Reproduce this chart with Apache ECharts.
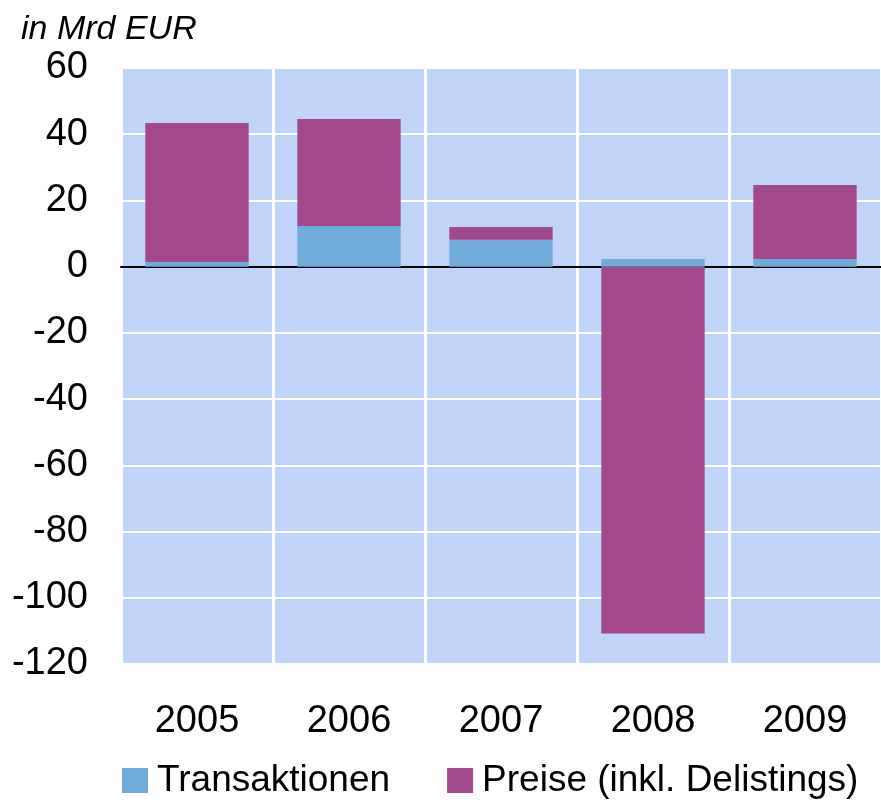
<head>
    <meta charset="utf-8"/>
    <style>
        html, body { margin: 0; padding: 0; background: #fff; }
        #container { width: 881px; height: 802px; }
    </style>
</head>
<div id="container"></div>
<script src="https://cdn.jsdelivr.net/npm/echarts@6/dist/echarts.min.js"></script>
<script type="text/javascript">
    var years = ['2005', '2006', '2007', '2008', '2009'];
    var transaktionen = [1.4, 12.3, 8.1, 2.3, 2.3];
    var preise = [42.0, 32.3, 3.9, -110.8, 22.4];
    var seriesNames = ['Transaktionen', 'Preise (inkl. Delistings)'];

    var font = 'Liberation Sans, Arial, sans-serif';
    var myChart = echarts.init(document.getElementById('container'));
    var option = {
        animation: false,
        title: {
            text: 'in Mrd EUR',
            left: 16,
            top: 8,
            textStyle: {
                fontFamily: font,
                fontStyle: 'italic',
                fontWeight: 'normal',
                fontSize: 34,
                color: '#000'
            }
        },
        legend: {
            left: 117,
            top: 757,
            itemWidth: 26,
            itemHeight: 25,
            itemGap: 57,
            icon: 'rect',
            textStyle: {
                fontFamily: font,
                fontSize: 37,
                color: '#000',
                padding: [0, 0, 0, 4]
            },
            data: seriesNames
        },
        grid: {
            left: 121,
            right: -3,
            top: 68,
            bottom: 138,
            show: true,
            backgroundColor: '#c0d3f8',
            borderWidth: 0
        },
        xAxis: {
            type: 'category',
            data: years,
            axisLine: { show: true, onZero: true, lineStyle: { color: '#000', width: 2 } },
            axisTick: { show: false },
            splitLine: { show: true, lineStyle: { color: '#fff', width: 3 } },
            axisLabel: {
                fontFamily: font,
                fontSize: 38,
                color: '#000',
                margin: 39
            }
        },
        yAxis: {
            type: 'value',
            min: -120,
            max: 60,
            interval: 20,
            axisLine: { show: false },
            axisTick: { show: false },
            splitLine: { show: true, lineStyle: { color: '#fff', width: 2 } },
            axisLabel: {
                fontFamily: font,
                fontSize: 38,
                color: '#000',
                margin: 33
            }
        },
        series: [
            {
                name: seriesNames[0],
                type: 'bar',
                stack: 'total',
                barWidth: '68%',
                itemStyle: { color: '#70acda' },
                data: transaktionen
            },
            {
                name: seriesNames[1],
                type: 'bar',
                stack: 'total',
                itemStyle: { color: '#a3488c' },
                data: preise
            }
        ]
    };
    myChart.setOption(option, true);
</script>
